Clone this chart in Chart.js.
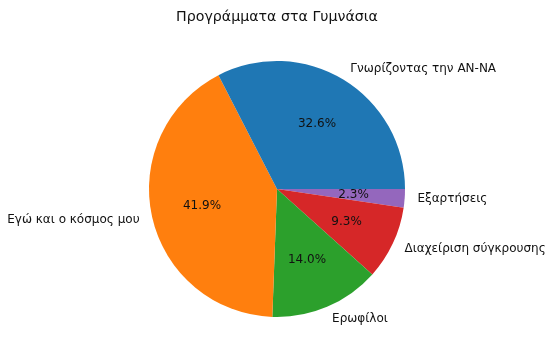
<!DOCTYPE html>
<html>
<head>
<meta charset="utf-8">
<script src="https://cdn.jsdelivr.net/npm/chart.js@4"></script>
<style>
html,body{margin:0;padding:0;background:#fff;}
#wrap{width:554px;height:357px;}
</style>
</head>
<body>
<div id="wrap"><canvas id="c" width="554" height="357"></canvas></div>
<script>
const titleText = "Προγράμματα στα Γυμνάσια";
const categories = ["Γνωρίζοντας την ΑΝ-ΝΑ", "Εγώ και ο κόσμος μου", "Ερωφίλοι", "Διαχείριση σύγκρουσης", "Εξαρτήσεις"];
const counts = [14, 18, 6, 4, 1];
const colors = ["#1f77b4", "#ff7f0e", "#2ca02c", "#d62728", "#9467bd"];

// matplotlib draws counter-clockwise from 3 o'clock; Chart.js draws clockwise,
// so reverse the order and start at 3 o'clock.
const labelsR = categories.slice().reverse();
const dataR = counts.slice().reverse();
const colorsR = colors.slice().reverse();
const total = counts.reduce((a, b) => a + b, 0);

const FONT = "'DejaVu Sans', sans-serif";

const labelPlugin = {
  id: 'mplLabels',
  afterDatasetsDraw(chart) {
    const ctx = chart.ctx;
    const meta = chart.getDatasetMeta(0);
    ctx.save();
    meta.data.forEach((arc, i) => {
      const mid = (arc.startAngle + arc.endAngle) / 2;
      const r = arc.outerRadius;
      const cx = arc.x, cy = arc.y;
      const cos = Math.cos(mid), sin = Math.sin(mid);
      ctx.font = "12px " + FONT;
      ctx.fillStyle = "#111";
      ctx.textBaseline = "middle";
      ctx.textAlign = cos > 0 ? "left" : "right";
      ctx.fillText(labelsR[i], cx + 1.1 * r * cos, cy + 1.1 * r * sin);
      ctx.textAlign = "center";
      const pct = (dataR[i] / total * 100).toFixed(1) + "%";
      ctx.fillText(pct, cx + 0.6 * r * cos, cy + 0.6 * r * sin);
    });
    ctx.font = "14.2px " + FONT;
    ctx.textAlign = "center";
    ctx.textBaseline = "middle";
    ctx.fillStyle = "#111";
    ctx.fillText(titleText, 277, 17);
    ctx.restore();
  }
};

new Chart(document.getElementById('c'), {
  type: 'pie',
  data: {
    labels: labelsR,
    datasets: [{
      data: dataR,
      backgroundColor: colorsR,
      borderWidth: 0
    }]
  },
  options: {
    responsive: false,
    animation: false,
    rotation: 90,
    layout: { padding: { top: 61, bottom: 40, left: 0, right: 0 } },
    plugins: {
      legend: { display: false },
      title: { display: false },
      tooltip: { enabled: false }
    }
  },
  plugins: [labelPlugin]
});
</script>
</body>
</html>
